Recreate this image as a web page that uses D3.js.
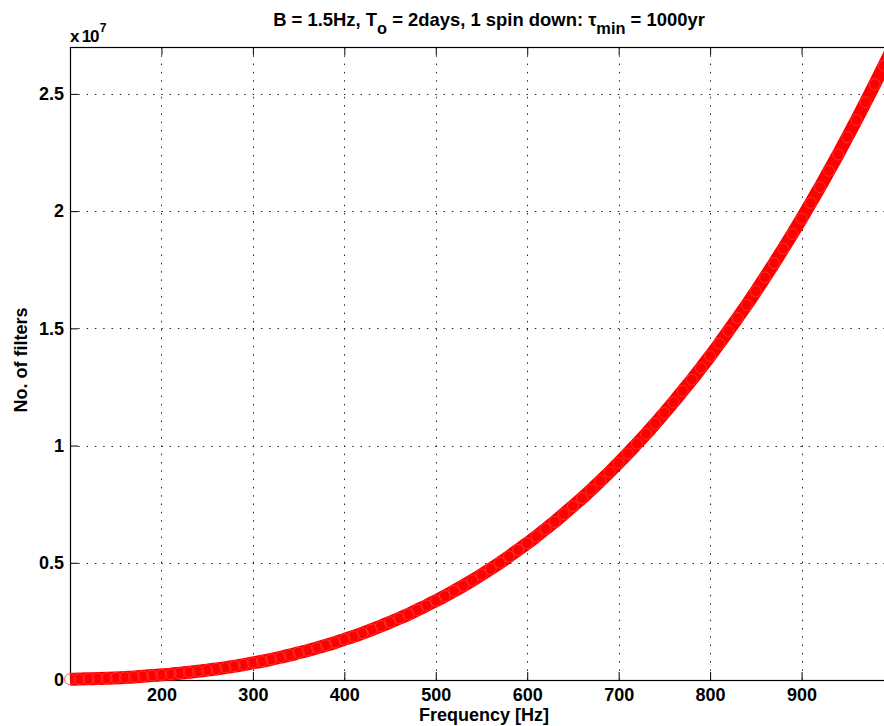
<!DOCTYPE html>
<html>
<head>
<meta charset="utf-8">
<script src="https://cdn.jsdelivr.net/npm/d3@7/dist/d3.min.js"></script>
<style>
  html, body { margin: 0; padding: 0; background: #fff; }
  svg { display: block; font-family: "Liberation Sans", Arial, Helvetica, sans-serif; font-weight: bold; }
</style>
</head>
<body>
<div id="chart"></div>
<script>
// frequency [Hz], every 10 Hz
const freqs = [100,110,120,130,140,150,160,170,180,190,200,210,220,230,240,250,260,270,280,290,
  300,310,320,330,340,350,360,370,380,390,400,410,420,430,440,450,460,470,480,490,
  500,510,520,530,540,550,560,570,580,590,600,610,620,630,640,650,660,670,680,690,
  700,710,720,730,740,750,760,770,780,790,800,810,820,830,840,850,860,870,880,890,
  900,910,920,930,940,950,960,970,980,990,1000];
// number of filters, in units of 1e7
const filters = [0.003,0.004,0.005,0.006,0.007,0.009,0.011,0.013,0.016,0.019,
  0.022,0.025,0.029,0.033,0.037,0.042,0.047,0.053,0.059,0.066,
  0.073,0.080,0.088,0.097,0.106,0.116,0.126,0.137,0.148,0.160,
  0.173,0.186,0.200,0.215,0.230,0.246,0.263,0.280,0.299,0.318,
  0.338,0.358,0.380,0.402,0.425,0.449,0.474,0.500,0.527,0.555,
  0.583,0.613,0.644,0.675,0.708,0.742,0.776,0.812,0.849,0.887,
  0.926,0.966,1.008,1.050,1.094,1.139,1.185,1.233,1.281,1.331,
  1.382,1.435,1.489,1.544,1.600,1.658,1.717,1.778,1.840,1.903,
  1.968,2.035,2.102,2.172,2.242,2.315,2.389,2.464,2.541,2.620,2.700];
const xTicks = [200,300,400,500,600,700,800,900];
const yTicks = [0,0.5,1,1.5,2,2.5];

const width = 884, height = 726;
const margin = { left: 70, top: 47, right: 893, bottom: 680 };

const svg = d3.select("#chart").append("svg")
  .attr("width", width).attr("height", height);

const x = d3.scaleLinear().domain([100, 1000]).range([margin.left, margin.right]);
const y = d3.scaleLinear().domain([0, 2.7]).range([margin.bottom, margin.top]);

// grid
const grid = svg.append("g").attr("stroke", "#222").attr("stroke-width", 1)
  .attr("stroke-dasharray", "1.5,6.8");
grid.selectAll("line.gx").data(xTicks).join("line")
  .attr("x1", d => Math.round(x(d)) + 0.5).attr("x2", d => Math.round(x(d)) + 0.5)
  .attr("y1", margin.top).attr("y2", margin.bottom);
grid.selectAll("line.gy").data(yTicks.filter(d => d > 0)).join("line")
  .attr("y1", d => Math.round(y(d)) + 0.5).attr("y2", d => Math.round(y(d)) + 0.5)
  .attr("x1", margin.left).attr("x2", margin.right);

// axes (ticks inside)
const tl = 8;
svg.append("g").attr("transform", `translate(0,${margin.bottom})`)
  .call(d3.axisBottom(x).tickValues(xTicks).tickSize(-tl).tickPadding(8).tickFormat(d3.format("d")))
  .call(g => g.select(".domain").remove());
svg.append("g").attr("transform", `translate(0,${margin.top})`)
  .call(d3.axisTop(x).tickValues(xTicks).tickSize(-tl).tickFormat(""))
  .call(g => g.select(".domain").remove());
svg.append("g").attr("transform", `translate(${margin.left},0)`)
  .call(d3.axisLeft(y).tickValues(yTicks).tickSize(-tl).tickPadding(6).tickFormat(d => d))
  .call(g => g.select(".domain").remove());
svg.append("g").attr("transform", `translate(${margin.right},0)`)
  .call(d3.axisRight(y).tickValues(yTicks).tickSize(-tl).tickFormat(""))
  .call(g => g.select(".domain").remove());
svg.selectAll(".tick line").attr("stroke", "#000");
svg.selectAll(".tick text").attr("font-size", 18).attr("font-family", "Liberation Sans, Arial, sans-serif")
  .attr("font-weight", "bold").attr("fill", "#000");

// box
svg.append("rect")
  .attr("x", margin.left + 0.5).attr("y", margin.top + 0.5)
  .attr("width", margin.right - margin.left).attr("height", margin.bottom - margin.top)
  .attr("fill", "none").attr("stroke", "#000").attr("stroke-width", 1.2);

// data band: thick line through the points plus circle markers
const pts = freqs.map((f, i) => [f, filters[i]]);
svg.append("path")
  .datum(pts)
  .attr("fill", "none").attr("stroke", "#ff0000").attr("stroke-width", 13)
  .attr("stroke-linecap", "butt").attr("stroke-linejoin", "round")
  .attr("d", d3.line().x(d => x(d[0])).y(d => y(d[1])).curve(d3.curveMonotoneX));
svg.append("g").selectAll("circle").data(pts).join("circle")
  .attr("cx", d => x(d[0])).attr("cy", d => y(d[1])).attr("r", 5.5)
  .attr("fill", "none").attr("stroke", "#ff3a3a").attr("stroke-width", 0.8);

// exponent label
const ex = svg.append("text").attr("x", 70).attr("y", 42).attr("font-size", 17)
  .attr("letter-spacing", -1.2).attr("fill", "#000");
ex.append("tspan").text("x 10");
ex.append("tspan").attr("font-size", 12).attr("dx", 1.5).attr("dy", -10).text("7");

// title, squeezed to the reference's width
const title = svg.append("text").attr("x", 489).attr("y", 26).attr("text-anchor", "middle")
  .attr("font-size", 18).attr("fill", "#000");
title.append("tspan").text("B = 1.5Hz, T");
title.append("tspan").attr("font-size", 16).attr("dy", 8).text("o");
title.append("tspan").attr("dy", -8).text(" = 2days, 1 spin down: τ");
title.append("tspan").attr("font-size", 16).attr("dy", 8).text("min");
title.append("tspan").attr("dy", -8).text(" = 1000yr");
const tw = title.node().getComputedTextLength();
const s = 432 / tw;
title.attr("transform", `translate(489,0) scale(${s},1) translate(-489,0)`);

// axis labels
svg.append("text").attr("x", 484).attr("y", 721).attr("text-anchor", "middle")
  .attr("font-size", 18).attr("fill", "#000").text("Frequency [Hz]");
svg.append("text").attr("transform", "translate(27,360) rotate(-90)").attr("text-anchor", "middle")
  .attr("font-size", 18).attr("fill", "#000").text("No. of filters");
</script>
</body>
</html>
